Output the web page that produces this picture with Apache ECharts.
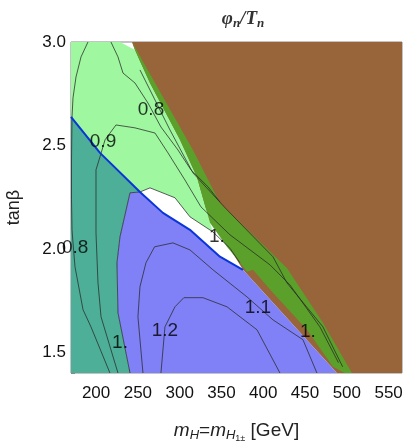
<!DOCTYPE html>
<html>
<head>
<meta charset="utf-8">
<script src="https://cdn.jsdelivr.net/npm/echarts@6/dist/echarts.min.js"></script>
<style>html,body{margin:0;padding:0;background:#fff}#main{width:415px;height:443px}</style>
</head>
<body>
<div id="main"></div>
<script>
// region boundaries [mH (GeV), tanβ]
const brownRegion = [[243,3],[566,3],[566,1.4],[488.1,1.4],[375.7,1.899],[324.3,2.237],[264.5,2.768]];
const darkGreenRegion = [[243,3],[280,2.734],[315.9,2.478],[348.2,2.222],[428.3,1.908],[471.4,1.643],[506.1,1.4],
  [497.7,1.4],[483.4,1.43],[452.3,1.609],[411.6,1.788],[387.7,1.899],[380.5,1.889],[372.1,1.933],[356.6,2.01],
  [336.2,2.126],[320.7,2.348],[300.4,2.527],[264.5,2.802],[246.5,2.961]];
const lightGreenRegion = [[170,3],[228.6,3],[246.5,2.961],[264.5,2.802],[300.4,2.527],[320.7,2.348],[336.2,2.126],
  [339.8,2.082],[312.3,2.155],[294.4,2.247],[264.5,2.295],[252.5,2.275],[204.7,2.464],[170,2.638]];
const tealRegion = [[170,2.638],[204.7,2.464],[252.5,2.275],[240.6,2.271],[228.6,2.058],[225,1.933],[226.2,1.691],
  [240.6,1.4],[170,1.4]];
const blueRegion = [[252.5,2.275],[280,2.174],[312.3,2.092],[348.2,1.962],[375.7,1.899],[488.1,1.4],[240.6,1.4],
  [226.2,1.691],[225,1.933],[228.6,2.058],[240.6,2.271]];
const blueLine = [[170,2.638],[204.7,2.464],[252.5,2.275],[280,2.174],[312.3,2.092],[348.2,1.962],[375.7,1.899]];

// contours of φn/Tn
const contours = [
  [[190.3,3],[182,2.928],[176,2.831],[172.4,2.73],[171.2,2.638],[170.6,2.43],[170.6,2.237],[171.2,2.092],
   [172.4,2.029],[174.8,1.913],[184.4,1.706],[193.9,1.623],[216.6,1.4]],
  [[217.8,3],[226.2,2.928],[232.2,2.85],[246.5,2.802],[262.1,2.705],[277.6,2.589],[298,2.478],[313.5,2.382],
   [333.9,2.3],[348.2,2.227]],
  [[226.2,1.4],[217.8,1.512],[205.9,1.672],[202.3,1.836],[199.9,2.077],[199.9,2.382],[204.7,2.445],[210.7,2.527],
   [223.8,2.599],[246.5,2.585],[270.5,2.56],[286,2.464],[306.3,2.333],[325.5,2.203],[360.2,2.068],[408,1.923],
   [431.9,1.826],[467.8,1.623],[490,1.45]],
  [[252.5,2.865],[288.4,2.575],[315.9,2.367],[356.6,2.189],[411.6,1.962],[428.3,1.836],[471.4,1.623],[495,1.43]],
  [[240.6,1.4],[226.2,1.691],[225,1.933],[228.6,2.058],[240.6,2.271],[252.5,2.275],[264.5,2.295],[294.4,2.247],
   [312.3,2.155],[339.8,2.082],[360.2,2.003],[372.1,1.933]],
  [[464.2,1.4],[447.5,1.561],[411.6,1.657],[380.5,1.768],[339.8,1.899],[312.3,1.995],[292,2.029],[270,2.01],
   [259.7,1.933],[252.5,1.817],[250.1,1.672],[256.1,1.4]],
  [[420,1.4],[392.5,1.609],[356.6,1.72],[327.9,1.764],[305,1.764],[294.4,1.72],[282.4,1.623],[277.6,1.4]]
];
const contourLabels = [
  [265.7,2.672,'0.8'],[208.3,2.517,'0.9'],[175,2.005,'0.8'],[228.6,1.546,'1.'],[282.4,1.604,'1.2'],
  [393.7,1.715,'1.1'],[453.5,1.6,'1.'],[344.6,2.058,'1.']
];

const xTicks = [200,250,300,350,400,450,500,550];
const yTicks = [1.5,2.0,2.5,3.0];
const xMinor = [];
for (let v = 180; v <= 560; v += 10) xMinor.push(v);
const yMinor = [];
for (let v = 14; v <= 30; v += 1) yMinor.push(v / 10);

const chart = echarts.init(document.getElementById('main'));

function poly(points, color, z) {
  return {
    type: 'custom', z: z, silent: true, clip: true,
    data: [0],
    renderItem: (params, api) => ({
      type: 'polygon',
      shape: { points: points.map(p => api.coord(p)) },
      style: { fill: color, stroke: null }
    })
  };
}
function line(points, color, width, z) {
  return {
    type: 'line', z: z, data: points, symbol: 'none', silent: true,
    lineStyle: { color: color, width: width }, animation: false
  };
}

const series = [
  poly(brownRegion, '#98653a', 1),
  poly(lightGreenRegion, '#9ff79f', 2),
  poly(darkGreenRegion, '#5aa02a', 3),
  poly(tealRegion, '#4daf98', 4),
  poly(blueRegion, '#8080f7', 5),
  line(blueLine, '#0a35d8', 2, 7)
];
contours.forEach(c => series.push(line(c, 'rgba(40,40,40,0.75)', 1, 6)));
series.push({
  type: 'scatter', z: 8, symbolSize: 0, silent: true,
  data: contourLabels.map(l => ({ value: [l[0], l[1]], name: l[2] })),
  label: { show: true, position: 'inside', formatter: '{b}', fontSize: 19, color: '#000', fontFamily: 'Liberation Sans' }
});

chart.setOption({
  animation: false,
  title: {
    text: '{i|φ}{s|n}{i|/T}{s|n}', left: 238, top: 3, textAlign: 'center',
    textStyle: { rich: {
      i: { fontSize: 19, fontStyle: 'italic', fontFamily: 'Liberation Serif', color: '#333' },
      s: { fontSize: 13, fontStyle: 'italic', fontFamily: 'Liberation Serif', color: '#333', padding: [9, 0, 0, 0] }
    } }
  },
  grid: { left: 71, right: 13, top: 42, bottom: 70, outerBoundsMode: 'none', containLabel: false,
    show: true, borderColor: '#888', borderWidth: 1, backgroundColor: '#fff' },
  xAxis: {
    type: 'value', min: 170, max: 566,
    name: '{i|m}{s|H}{n|=}{i|m}{s|H}{t|1}{t|±}{n| [GeV]}', nameLocation: 'middle', nameGap: 46,
    nameTextStyle: { rich: {
      i: { fontSize: 19, fontStyle: 'italic', fontFamily: 'Liberation Sans', color: '#222' },
      s: { fontSize: 13, fontStyle: 'italic', fontFamily: 'Liberation Sans', color: '#222', padding: [9, 0, 0, 0] },
      t: { fontSize: 9, fontFamily: 'Liberation Sans', color: '#222', padding: [15, 0, 0, 0] },
      n: { fontSize: 19, fontFamily: 'Liberation Sans', color: '#222' }
    } },
    axisLine: { show: false },
    splitLine: { show: false },
    axisTick: { inside: true, length: 4, lineStyle: { color: '#888' }, customValues: xMinor },
    axisLabel: { customValues: xTicks, fontSize: 17, color: '#111', fontFamily: 'Liberation Sans', margin: 12 }
  },
  yAxis: {
    type: 'value', min: 1.4, max: 3.0,
    name: 'tanβ', nameLocation: 'middle', nameGap: 48, nameRotate: 90,
    nameTextStyle: { fontSize: 18, color: '#222', fontFamily: 'Liberation Sans' },
    axisLine: { show: false },
    splitLine: { show: false },
    axisTick: { inside: true, length: 4, lineStyle: { color: '#888' }, customValues: yMinor },
    axisLabel: { customValues: yTicks, fontSize: 17, color: '#111', fontFamily: 'Liberation Sans', margin: 5,
      formatter: v => v.toFixed(1) }
  },
  series: series
});
</script>
</body>
</html>
